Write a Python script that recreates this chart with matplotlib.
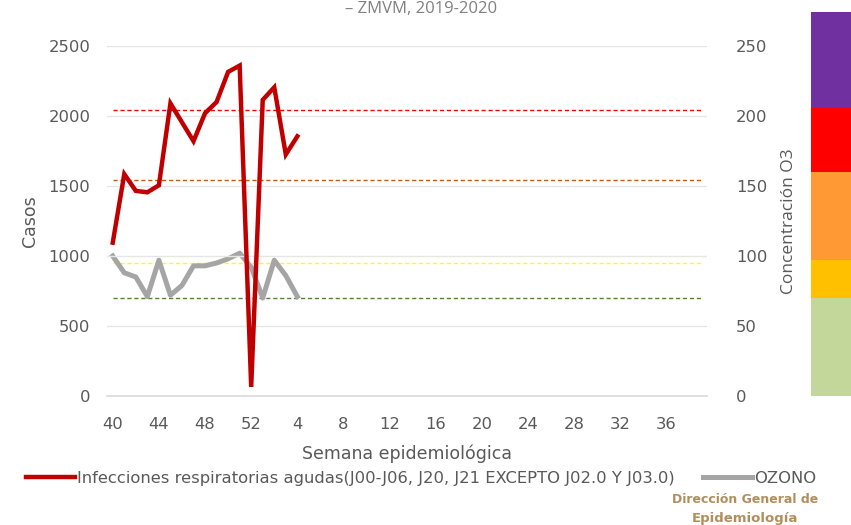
import matplotlib
matplotlib.use("Agg")
import matplotlib.pyplot as plt
from matplotlib.lines import Line2D

plt.rcParams['font.family'] = ['DejaVu Sans']

# ---- data ----
weeks = list(range(40, 53)) + list(range(1, 40))
ira = [1095, 1585, 1465, 1455, 1505, 2090, 1955, 1820, 2020, 2100, 2315, 2360, 65,
       2115, 2205, 1725, 1855]
ozono = [100, 88, 85, 71, 97, 72, 79, 93, 93, 95, 98, 102, 92, 70, 97, 86, 71]
umbrales = [204, 154, 95, 70]
umbral_colores = ['#ff0000', '#c55a11', '#ffff00', '#548235']
banda_bordes = [0, 70, 97, 160, 206, 274]
banda_colores = ['#c4d79b', '#ffc000', '#ff9933', '#ff0000', '#7030a0']
tick_labels = [str(w) for w in weeks[::4]]

TXT = '#595959'
fig = plt.figure(figsize=(8.51, 5.25), dpi=100, facecolor='white')
ax = fig.add_axes([0.1257, 0.2457, 0.705, 0.6667])
ax2 = ax.twinx()

x = list(range(len(weeks)))
ax.set_xlim(-0.5, len(weeks) - 0.5)
ax.set_ylim(0, 2500)
ax2.set_ylim(0, 250)
ax.set_yticks(range(0, 2501, 500))
ax2.set_yticks(range(0, 251, 50))
ax.set_xticks(x[::4])
ax.set_xticklabels(tick_labels)

ax.grid(axis='y', color='#e6e6e6', lw=1)
ax.set_axisbelow(True)
for a in (ax, ax2):
    for s in a.spines.values():
        s.set_visible(False)
ax.spines['bottom'].set_visible(True)
ax.spines['bottom'].set_color('#d9d9d9')
ax.spines['bottom'].set_linewidth(1.2)
ax.tick_params(axis='y', length=0, labelsize=11.8, labelcolor=TXT, pad=12)
ax.tick_params(axis='x', length=0, labelsize=11.8, labelcolor=TXT, pad=15)
ax2.tick_params(axis='y', length=0, labelsize=11.8, labelcolor=TXT, pad=21)

for v, c in zip(umbrales, umbral_colores):
    ax2.plot(x, [v] * len(x), ls=(0, (3, 2)), color=c, lw=1)

ax.plot(x[:len(ira)], ira, color='#c00000', lw=3.2, solid_joinstyle='miter', zorder=5)
ax2.plot(x[:len(ozono)], ozono, color='#a5a5a5', lw=3.6, zorder=4)
ax.set_zorder(ax2.get_zorder() + 1)
ax.patch.set_visible(False)

ax.set_ylabel('Casos', fontsize=12.5, color=TXT, labelpad=7)
ax2.set_ylabel('Concentración O3', fontsize=12.5, color=TXT, labelpad=10,
               family=['Open Sans', 'DejaVu Sans'])
ax.set_xlabel('Semana epidemiológica', fontsize=12.5, color=TXT, labelpad=9)

# colour bands on the right
ax3 = fig.add_axes([0.953, 0.2457, 0.05, 0.6667])
ax3.set_ylim(0, 250)
ax3.set_xlim(0, 1)
ax3.axis('off')
for lo, hi, c in zip(banda_bordes[:-1], banda_bordes[1:], banda_colores):
    ax3.bar(0.5, hi - lo, bottom=lo, width=1, color=c, clip_on=False)

handles = [Line2D([], [], color='#c00000', lw=3.2),
           Line2D([], [], color='#a5a5a5', lw=3.6)]
fig.legend(handles,
           ['Infecciones respiratorias agudas(J00-J06, J20, J21 EXCEPTO J02.0 Y J03.0)',
            'OZONO'],
           loc='center', bbox_to_anchor=(0.495, 0.089), ncol=2, frameon=False,
           fontsize=11.8, labelcolor=TXT, handlelength=3.0, handletextpad=0.15,
           columnspacing=1.7)

fig.text(0.495, 0.998, '– ZMVM, 2019-2020', ha='center', va='top', fontsize=12,
         color='#808080', family=['Open Sans', 'DejaVu Sans'])
fig.text(0.875, 0.048, 'Dirección General de', ha='center', va='center',
         fontsize=9, color='#b38e5d', fontweight='bold')
fig.text(0.875, 0.012, 'Epidemiología', ha='center', va='center',
         fontsize=9.5, color='#b38e5d', fontweight='bold')

fig.savefig('out.png', dpi=100, facecolor='white')
